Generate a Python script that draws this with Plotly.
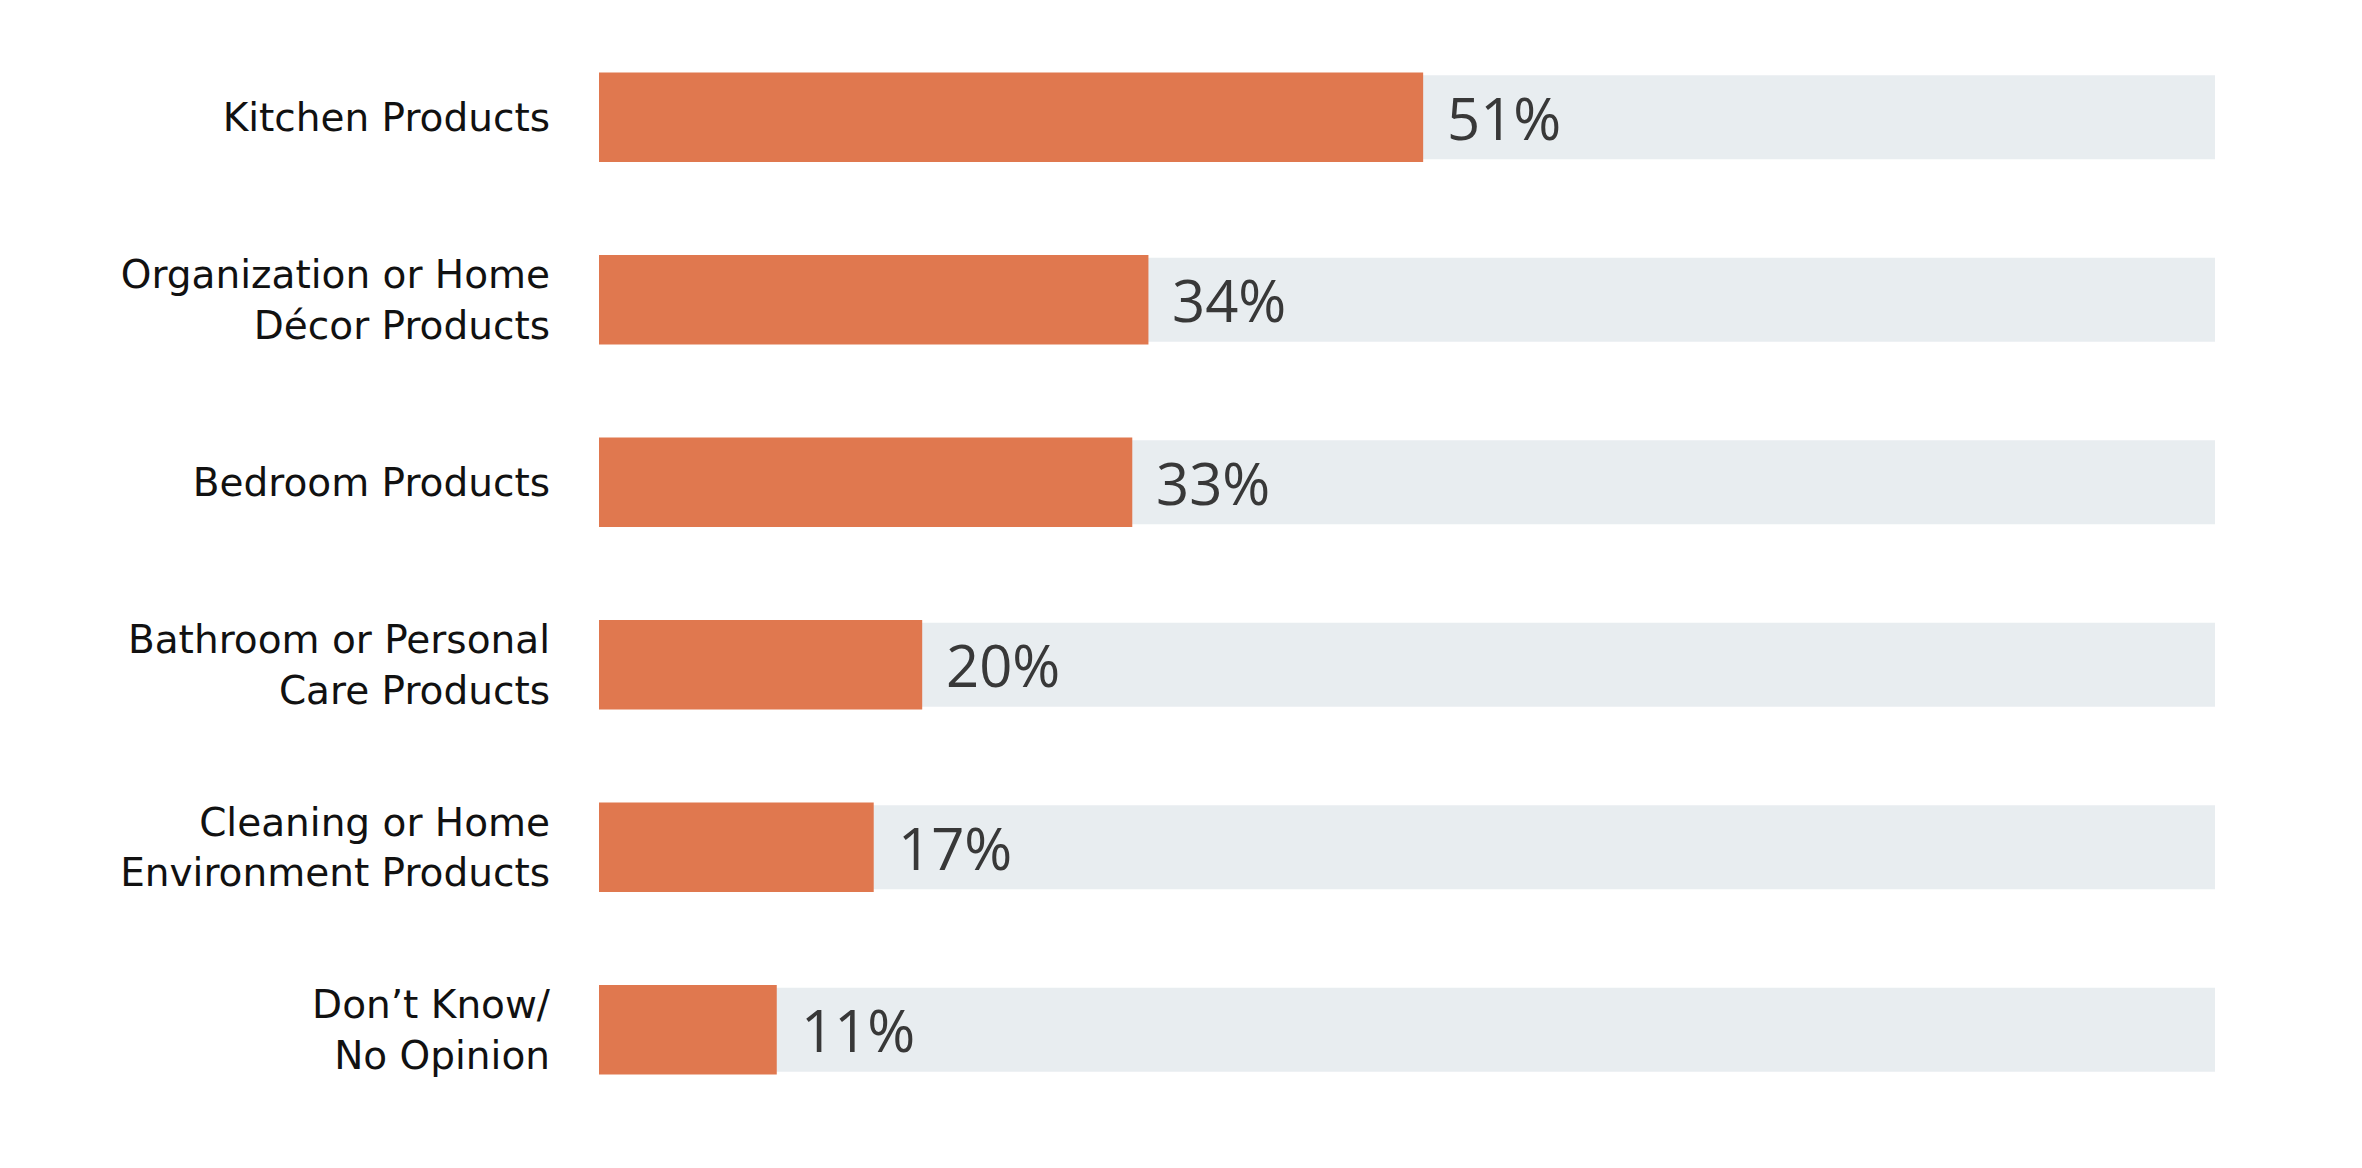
import plotly.graph_objects as go

# Data
categories = [
    "Kitchen Products",
    "Organization or Home<br>Décor Products",
    "Bedroom Products",
    "Bathroom or Personal<br>Care Products",
    "Cleaning or Home<br>Environment Products",
    "Don’t Know/<br>No Opinion",
]
values = [51, 34, 33, 20, 17, 11]
full_scale = [100, 100, 100, 100, 100, 100]
value_labels = [f"{v}%" for v in values]

ORANGE = "#E0784F"
TRACK = "#E8EDF0"
TEXT_DARK = "#383838"

fig = go.Figure()

# background track (100%)
fig.add_trace(go.Bar(
    y=categories, x=full_scale, orientation="h",
    marker=dict(color=TRACK, line=dict(width=0)),
    width=0.46, hoverinfo="skip", showlegend=False,
))

# actual values
fig.add_trace(go.Bar(
    y=categories, x=values, orientation="h",
    marker=dict(color=ORANGE, line=dict(width=0)),
    width=0.49, showlegend=False,
))

# value labels just past the end of each bar
for cat, v, lab in zip(categories, values, value_labels):
    fig.add_annotation(
        x=v, y=cat, text=lab, showarrow=False,
        xanchor="left", yanchor="middle", xshift=22,
        font=dict(family="Open Sans", size=58, color=TEXT_DARK),
    )

# page body adds 8px, so the figure is a bit smaller than the window
fig.update_layout(
    width=2346, height=1152,
    barmode="overlay",
    plot_bgcolor="white", paper_bgcolor="white",
    margin=dict(l=591, r=139, t=18, b=39),
    font=dict(family="DejaVu Sans", color="#111111"),
)

fig.update_xaxes(range=[0, 100], visible=False, fixedrange=True)
fig.update_yaxes(
    autorange="reversed",
    showgrid=False, zeroline=False, showline=False,
    ticks="", ticklabelstandoff=48,
    tickfont=dict(family="DejaVu Sans", size=39, color="#111111"),
)

fig.write_html("out.html")
